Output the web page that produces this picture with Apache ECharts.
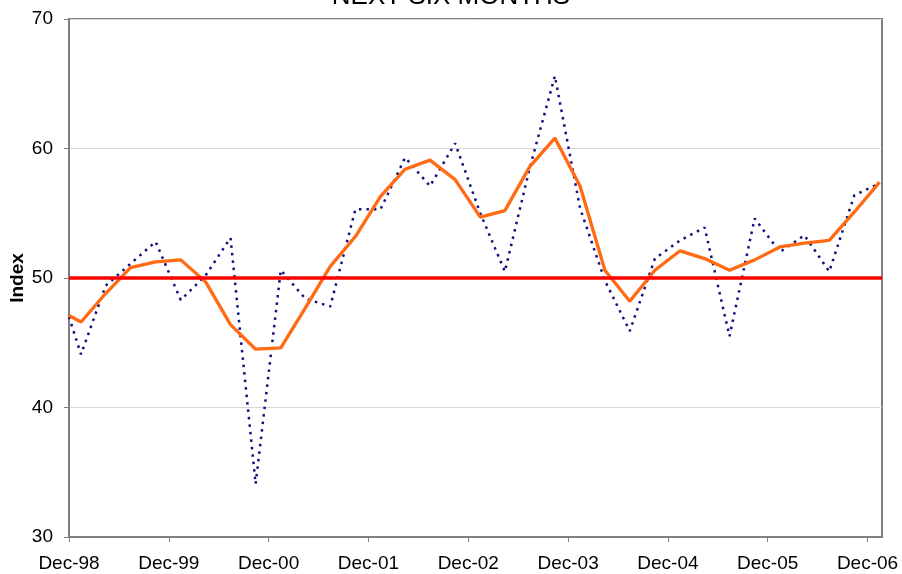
<!DOCTYPE html>
<html>
<head>
<meta charset="utf-8">
<script src="https://cdn.jsdelivr.net/npm/echarts@6/dist/echarts.min.js"></script>
<style>
  html, body { margin: 0; padding: 0; background: #ffffff; }
  #chart { width: 902px; height: 574px; }
</style>
</head>
<body>
<div id="chart"></div>
<script>
// Survey dates (first reading, then quarterly readings)
const surveyDates = [
  '1998-12-15', '1999-01-28', '1999-04-28', '1999-07-28', '1999-10-28',
  '2000-01-28', '2000-04-28', '2000-07-28', '2000-10-28',
  '2001-01-28', '2001-04-28', '2001-07-28', '2001-10-28',
  '2002-01-28', '2002-04-28', '2002-07-28', '2002-10-28',
  '2003-01-28', '2003-04-28', '2003-07-28', '2003-10-28',
  '2004-01-28', '2004-04-28', '2004-07-28', '2004-10-28',
  '2005-01-28', '2005-04-28', '2005-07-28', '2005-10-28',
  '2006-01-28', '2006-04-28', '2006-07-28', '2006-10-28',
  '2007-01-28'
];

// Quarterly index readings (dotted line)
const quarterlyIndex = [
  47.0, 44.1, 49.4, 51.1, 52.8,
  48.3, 50.2, 53.1, 34.1,
  50.6, 48.4, 47.8, 55.3,
  55.3, 59.3, 57.1, 60.4,
  55.0, 50.5, 58.5, 65.6,
  55.4, 49.8, 45.9, 51.5,
  52.9, 53.9, 45.5, 54.6,
  52.0, 53.3, 50.5, 56.4,
  57.3
];

// Smoothed index (solid line)
const smoothedIndex = [
  47.1, 46.6, 48.8, 50.8, 51.25,
  51.4, 49.7, 46.4, 44.5,
  44.6, 47.7, 50.9, 53.2,
  56.3, 58.4, 59.1, 57.6,
  54.7, 55.2, 58.6, 60.8,
  57.1, 50.6, 48.2, 50.6,
  52.1, 51.5, 50.6, 51.4,
  52.4, 52.7, 52.9, 55.1,
  57.4
];

// Year tick labels along the bottom axis
const yearLabels = ['Dec-98', 'Dec-99', 'Dec-00', 'Dec-01', 'Dec-02', 'Dec-03', 'Dec-04', 'Dec-05', 'Dec-06'];

const neutralLevel = 50;
const axisOrigin = '1998-12-15';
const axisEnd = '2007-02-06';
const DAY = 86400000;
const YEAR_DAYS = 365.25;

function dayOffset(d) {
  return (Date.parse(d) - Date.parse(axisOrigin)) / DAY;
}

const xs = surveyDates.map(dayOffset);
const yearTicks = yearLabels.map((_, i) => i * YEAR_DAYS);

const FONT = '"Liberation Sans", Arial, sans-serif';

const chart = echarts.init(document.getElementById('chart'), null, { renderer: 'canvas' });

chart.setOption({
  animation: false,
  backgroundColor: '#ffffff',
  title: {
    text: 'NEXT SIX MONTHS',
    left: 'center',
    top: -16,
    padding: 0,
    textStyle: { fontFamily: FONT, fontSize: 26, fontWeight: 'normal', color: '#000000' }
  },
  grid: {
    left: 69, right: 20, top: 19, bottom: 37,
    outerBoundsMode: 'none',
    containLabel: false,
    show: true,
    borderColor: '#7f7f7f',
    borderWidth: 2,
    backgroundColor: '#ffffff'
  },
  xAxis: {
    type: 'value',
    min: 0,
    max: dayOffset(axisEnd),
    interval: YEAR_DAYS,
    axisLine: { show: true, lineStyle: { color: '#7f7f7f', width: 2 } },
    axisTick: { show: true, length: 5, lineStyle: { color: '#7f7f7f' }, customValues: yearTicks },
    splitLine: { show: false },
    axisLabel: {
      customValues: yearTicks,
      margin: 17,
      fontFamily: FONT,
      fontSize: 19,
      color: '#000000',
      formatter: v => yearLabels[Math.round(v / YEAR_DAYS)] || ''
    }
  },
  yAxis: {
    type: 'value',
    min: 30,
    max: 70,
    interval: 10,
    name: 'Index',
    nameLocation: 'middle',
    nameGap: 42,
    nameMoveOverlap: false,
    nameTextStyle: { fontFamily: FONT, fontSize: 19, fontWeight: 'bold', color: '#000000' },
    axisLine: { show: true, lineStyle: { color: '#7f7f7f', width: 2 } },
    axisTick: { show: true, length: 5, lineStyle: { color: '#7f7f7f' } },
    splitLine: { show: true, lineStyle: { color: '#d9d9d9', width: 1 } },
    axisLabel: { margin: 16, fontFamily: FONT, fontSize: 19, color: '#000000' }
  },
  series: [
    {
      name: 'Neutral',
      type: 'line',
      data: [],
      z: 1,
      silent: true,
      markLine: {
        silent: true,
        symbol: 'none',
        label: { show: false },
        lineStyle: { color: '#ff0000', width: 3.5, type: 'solid' },
        data: [{ yAxis: neutralLevel }]
      }
    },
    {
      name: 'Quarterly',
      type: 'line',
      z: 2,
      showSymbol: false,
      symbol: 'none',
      data: xs.map((x, i) => [x, quarterlyIndex[i]]),
      lineStyle: { color: '#10107f', width: 2.5, type: [2.5, 5], cap: 'butt' }
    },
    {
      name: 'Smoothed',
      type: 'line',
      z: 3,
      showSymbol: false,
      symbol: 'none',
      data: xs.map((x, i) => [x, smoothedIndex[i]]),
      lineStyle: { color: '#ff6a13', width: 3.3 }
    }
  ]
});
</script>
</body>
</html>
